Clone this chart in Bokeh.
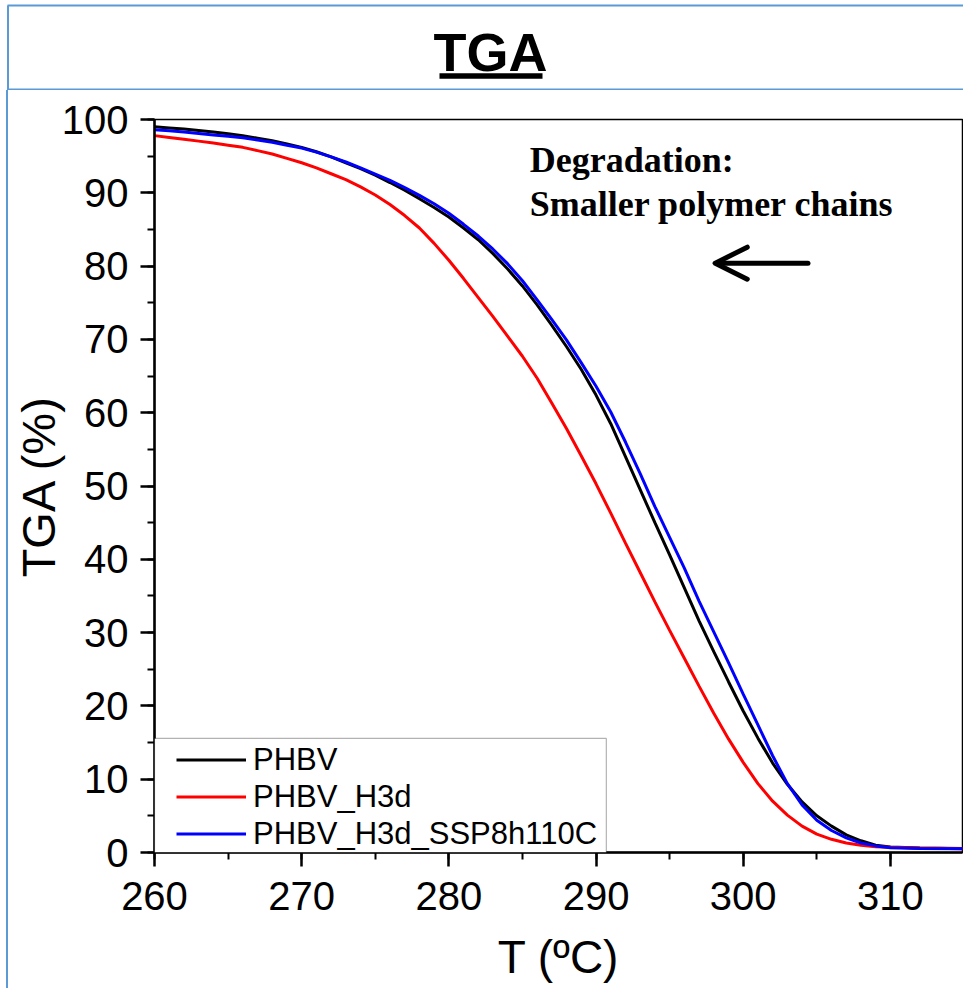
from bokeh.plotting import figure
from bokeh.layouts import column, row, Spacer
from bokeh.models import (Range1d, SingleIntervalTicker, Legend, LegendItem,
                          BoxAnnotation, Arrow, OpenHead)
from bokeh.core.properties import value
from bokeh.embed import file_html
from bokeh.resources import INLINE

# ---------------- data ----------------
temperature = [260, 261, 262, 263, 264, 265, 266, 267, 268, 269, 270, 271,
               272, 273, 274, 275, 276, 277, 278, 279, 280, 281, 282, 283,
               284, 285, 286, 287, 288, 289, 290, 291, 292, 293, 294, 295,
               296, 297, 298, 299, 300, 301, 302, 303, 304, 305, 306, 307,
               308, 309, 310, 312, 315]

phbv = [99.0, 98.85, 98.7, 98.5, 98.3, 98.05, 97.8, 97.45, 97.1, 96.65, 96.2, 95.6,
        94.9, 94.1, 93.3, 92.4, 91.4, 90.35, 89.2, 88.0, 86.7, 85.2, 83.6, 81.7,
        79.6, 77.3, 74.7, 71.9, 69.0, 65.9, 62.4, 58.5, 54.0, 49.5, 45.0, 40.6,
        36.1, 31.6, 27.4, 23.3, 19.3, 15.6, 12.2, 9.3, 6.9, 5.0, 3.6, 2.4,
        1.6, 1.0, 0.75, 0.6, 0.55]

phbv_h3d = [97.8, 97.55, 97.3, 97.05, 96.8, 96.5, 96.2, 95.75, 95.3, 94.7, 94.1, 93.4,
            92.6, 91.8, 90.8, 89.7, 88.4, 86.9, 85.2, 83.1, 80.8, 78.3, 75.7, 73.1,
            70.4, 67.7, 64.7, 61.3, 57.8, 54.1, 50.3, 46.3, 42.2, 38.2, 34.2, 30.3,
            26.5, 22.7, 19.0, 15.5, 12.3, 9.4, 7.0, 5.1, 3.6, 2.5, 1.8, 1.3,
            1.0, 0.8, 0.7, 0.6, 0.5]

phbv_h3d_ssp = [98.6, 98.45, 98.3, 98.1, 97.9, 97.7, 97.5, 97.2, 96.9, 96.5, 96.1, 95.55,
                94.9, 94.2, 93.4, 92.55, 91.7, 90.7, 89.65, 88.5, 87.2, 85.7, 84.1, 82.3,
                80.3, 78.0, 75.4, 72.7, 69.9, 66.8, 63.6, 60.1, 56.0, 51.7, 47.2, 43.0,
                38.8, 34.3, 30.1, 25.9, 21.6, 17.4, 13.2, 9.4, 6.5, 4.4, 3.0, 2.0,
                1.3, 0.9, 0.65, 0.55, 0.5]

series_names = ["PHBV", "PHBV_H3d", "PHBV_H3d_SSP8h110C"]
series_colors = ["#000000", "#ff0000", "#0000ff"]

title_text = "TGA"
x_label = "T (ºC)"
y_label = "TGA (%)"

annot_lines = ["Degradation:", "Smaller polymer chains"]
annot_x = 285.5
annot_y = [94.5, 88.5]

arrow_y = 80.4
arrow_x_from = 304.4
arrow_x_to = 298.1

legend_box = dict(left=260, right=290.7, bottom=0, top=15.56)

BLUE_BORDER = "#5b9bd5"
SANS = "Liberation Sans"

# ---------------- header ----------------
HW, HH = 963, 90
header = figure(width=HW, height=HH, x_range=Range1d(0, HW), y_range=Range1d(HH, 0),
                output_backend="svg", toolbar_location=None, min_border=0,
                x_axis_location=None, y_axis_location=None)
header.outline_line_color = None
header.grid.visible = False
header.segment(x0=[7, 7.5, 7], y0=[5, 5, 89], x1=[HW, 7.5, HW], y1=[5, HH, 89],
               line_color=BLUE_BORDER, line_width=2)
header.text(x=[490], y=[51], text=[title_text],
            text_font=value(SANS), text_font_style="bold", text_font_size="54px",
            text_color="black", text_align="center", text_baseline="alphabetic")
header.quad(left=[439], right=[542], top=[72.7], bottom=[78.3],
            fill_color="black", line_color=None)

# ---------------- left border strip ----------------
MH = 898
GAP, SW = 6, 2
gap = Spacer(width=GAP, height=MH)
strip = Spacer(width=SW, height=MH, styles={"background-color": BLUE_BORDER})

# ---------------- main plot ----------------
MW = HW - GAP - SW
p = figure(width=MW, height=MH, x_range=Range1d(260, 314.9), y_range=Range1d(0, 100),
           output_backend="svg", toolbar_location=None,
           min_border_left=154 - GAP - SW, min_border_right=1, min_border_top=29,
           min_border_bottom=136)
p.grid.visible = False
p.outline_line_color = "black"
p.outline_line_width = 1.5
p.background_fill_color = "white"
p.border_fill_color = "white"

p.xaxis.ticker = SingleIntervalTicker(interval=10, num_minor_ticks=2)
p.yaxis.ticker = SingleIntervalTicker(interval=10, num_minor_ticks=2)
p.xaxis.axis_label = x_label
p.yaxis.axis_label = y_label
for ax in (p.xaxis, p.yaxis):
    ax.axis_line_width = 2.5
    ax.axis_line_color = "black"
    ax.major_tick_line_width = 2.5
    ax.minor_tick_line_width = 2
    ax.major_tick_line_color = "black"
    ax.minor_tick_line_color = "black"
    ax.major_tick_in = 0
    ax.minor_tick_in = 0
    ax.major_tick_out = 14
    ax.minor_tick_out = 7
    ax.major_label_text_font = SANS
    ax.major_label_text_font_size = "40px"
    ax.major_label_text_color = "black"
    ax.axis_label_text_font = SANS
    ax.axis_label_text_font_style = "normal"
    ax.axis_label_text_color = "black"
p.xaxis.axis_label_text_font_size = "46px"
p.yaxis.axis_label_text_font_size = "47px"
p.xaxis.major_label_standoff = 15
p.xaxis.axis_label_standoff = 18
p.yaxis.major_label_standoff = 12
p.yaxis.axis_label_standoff = -6

renderers = []
for ys, color in zip([phbv, phbv_h3d, phbv_h3d_ssp], series_colors):
    r = p.line(x=temperature, y=ys, line_color=color, line_width=3)
    renderers.append(r)

box = BoxAnnotation(fill_color="white", fill_alpha=1, line_color="black",
                    line_width=1.2, **legend_box)
p.add_layout(box)

legend = Legend(items=[LegendItem(label=n, renderers=[r]) for n, r in zip(series_names, renderers)],
                location=(22, 0), padding=0, spacing=0, margin=0,
                glyph_width=70, glyph_height=37, label_height=37, label_standoff=7,
                label_text_font=SANS, label_text_font_size="31px", label_text_color="black",
                border_line_color=None, background_fill_alpha=0)
p.add_layout(legend)

p.text(x=[annot_x] * len(annot_lines), y=annot_y, text=annot_lines,
       text_font=value("Liberation Serif"), text_font_style="bold",
       text_font_size="36px", text_color="black", text_baseline="alphabetic")

p.add_layout(Arrow(end=OpenHead(size=32, line_width=5, line_color="black",
                                line_cap="round", line_join="round"),
                   x_start=arrow_x_from, y_start=arrow_y, x_end=arrow_x_to, y_end=arrow_y,
                   line_width=5, line_color="black", line_cap="round"))

layout = column(header, row(gap, strip, p, spacing=0), spacing=0)

open("out.html", "w").write(file_html(layout, INLINE))
